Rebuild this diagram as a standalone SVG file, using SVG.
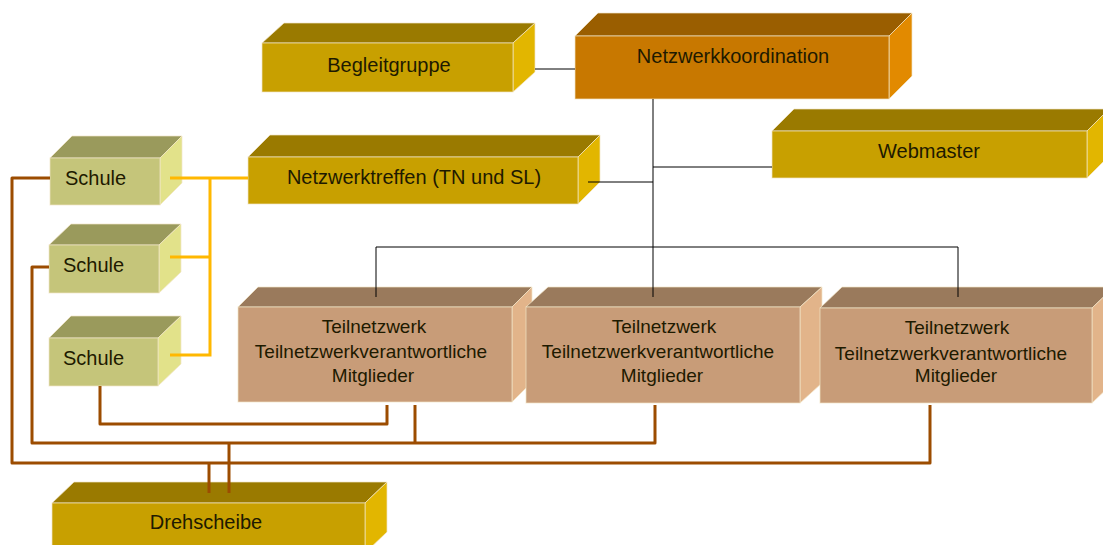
<svg xmlns="http://www.w3.org/2000/svg" width="1103" height="545" viewBox="0 0 1103 545">
  <style>
    text { font-family: "Liberation Sans", Arial, sans-serif; font-size: 20px; fill: #1e1a00; text-anchor: middle; }
    .tn text { font-size: 19px; }
    .schule text { text-anchor: start; }
    .edge { stroke: #f2e6c8; stroke-width: 1; stroke-opacity: 0.7; }
    /* gold boxes */
    .g .top { fill: #9a7a00; } .g .front { fill: #c8a000; } .g .side { fill: #e2b600; }
    /* orange box */
    .o .top { fill: #9a5e00; } .o .front { fill: #c87800; } .o .side { fill: #e28a00; }
    /* olive boxes */
    .s .top { fill: #9a9a5c; } .s .front { fill: #c5c57a; } .s .side { fill: #e2e28a; }
    /* tan boxes */
    .t .top { fill: #9a7a5c; } .t .front { fill: #c89c78; } .t .side { fill: #e2b48a; }
    .black { stroke: #000; stroke-width: 1; fill: none; }
    .brown { stroke: #9c4c00; stroke-width: 3; fill: none; stroke-linejoin: round; }
    .yellow { stroke: #ffb800; stroke-width: 3; fill: none; stroke-linejoin: miter; }
  </style>

  <rect width="1103" height="545" fill="#ffffff"/>

  <g id="begleitgruppe" class="g">
    <polygon class="top edge" points="262,43 284,23 535,23 513,43"/>
    <polygon class="side edge" points="513,43 535,23 535,72 513,92"/>
    <rect class="front edge" x="262" y="43" width="251" height="49"/>
    <text x="389" y="72">Begleitgruppe</text>
  </g>

  <g id="netzwerkkoordination" class="o">
    <polygon class="top edge" points="575,36 598,13 912,13 889,36"/>
    <polygon class="side edge" points="889,36 912,13 912,76 889,99"/>
    <rect class="front edge" x="575" y="36" width="314" height="63"/>
    <text x="733" y="63">Netzwerkkoordination</text>
  </g>

  <g id="webmaster" class="g">
    <polygon class="top edge" points="772,131 794,109 1109,109 1087,131"/>
    <polygon class="side edge" points="1087,131 1109,109 1109,156 1087,178"/>
    <rect class="front edge" x="772" y="131" width="315" height="47"/>
    <text x="929" y="158">Webmaster</text>
  </g>

  <g id="netzwerktreffen" class="g">
    <polygon class="top edge" points="248,157 270,135 600,135 578,157"/>
    <polygon class="side edge" points="578,157 600,135 600,182 578,204"/>
    <rect class="front edge" x="248" y="157" width="330" height="47"/>
    <text x="414" y="184">Netzwerktreffen (TN und SL)</text>
  </g>

  <g id="schule-1" class="s schule">
    <polygon class="top edge" points="50,158 72,136 182,136 160,158"/>
    <polygon class="side edge" points="160,158 182,136 182,183 160,205"/>
    <rect class="front edge" x="50" y="158" width="110" height="47"/>
    <text x="65" y="185">Schule</text>
  </g>

  <g id="schule-2" class="s schule">
    <polygon class="top edge" points="49,245 71,224 181,224 159,245"/>
    <polygon class="side edge" points="159,245 181,224 181,272 159,293"/>
    <rect class="front edge" x="49" y="245" width="110" height="48"/>
    <text x="63" y="272">Schule</text>
  </g>

  <g id="schule-3" class="s schule">
    <polygon class="top edge" points="49,338 71,316 181,316 158,338"/>
    <polygon class="side edge" points="158,338 181,316 181,364 158,386"/>
    <rect class="front edge" x="49" y="338" width="109" height="48"/>
    <text x="63" y="365">Schule</text>
  </g>

  <g id="teilnetzwerk-1" class="t tn">
    <polygon class="top edge" points="238,307 258,287 532,287 512,307"/>
    <polygon class="side edge" points="512,307 532,287 532,382 512,402"/>
    <rect class="front edge" x="238" y="307" width="274" height="95"/>
    <text x="374" y="333">Teilnetzwerk</text>
    <text x="371" y="358">Teilnetzwerkverantwortliche</text>
    <text x="373" y="382">Mitglieder</text>
  </g>

  <g id="teilnetzwerk-2" class="t tn">
    <polygon class="top edge" points="526,307 548,287 822,287 800,307"/>
    <polygon class="side edge" points="800,307 822,287 822,383 800,403"/>
    <rect class="front edge" x="526" y="307" width="274" height="96"/>
    <text x="664" y="333">Teilnetzwerk</text>
    <text x="658" y="358">Teilnetzwerkverantwortliche</text>
    <text x="662" y="382">Mitglieder</text>
  </g>

  <g id="teilnetzwerk-3" class="t tn">
    <polygon class="top edge" points="820,308 842,287 1114,287 1092,308"/>
    <polygon class="side edge" points="1092,308 1114,287 1114,382 1092,403"/>
    <rect class="front edge" x="820" y="308" width="272" height="95"/>
    <text x="957" y="334">Teilnetzwerk</text>
    <text x="951" y="360">Teilnetzwerkverantwortliche</text>
    <text x="956" y="382">Mitglieder</text>
  </g>

  <g id="drehscheibe" class="g">
    <polygon class="top edge" points="52,503 74,482 387,482 365,503"/>
    <polygon class="side edge" points="365,503 387,482 387,532 365,553"/>
    <rect class="front edge" x="52" y="503" width="313" height="50"/>
    <text x="206" y="529">Drehscheibe</text>
  </g>

  <g id="connectors">
    <!-- coordination lines -->
    <path class="black" d="M535,69 H575"/>
    <path class="black" d="M653,99 V247"/>
    <path class="black" d="M376,247 H958"/>
    <path class="black" d="M376,247 V297 M653,247 V297 M958,247 V297"/>
    <path class="black" d="M588,182 H653"/>
    <path class="black" d="M653,167 H772"/>
    <!-- schools to network meeting -->
    <path class="yellow" d="M170,178 H248"/>
    <path class="yellow" d="M210,178 V355 H170"/>
    <path class="yellow" d="M170,257 H210"/>
    <!-- hub links -->
    <path class="brown" d="M50,178 H12 V463 H930 V405"/>
    <path class="brown" d="M49,267 H32 V443 H655 V405"/>
    <path class="brown" d="M100,386 V424 H387 V405"/>
    <path class="brown" d="M415,405 V443"/>
    <path class="brown" d="M209,463 V493"/>
    <path class="brown" d="M229,443 V493"/>
  </g>
</svg>
